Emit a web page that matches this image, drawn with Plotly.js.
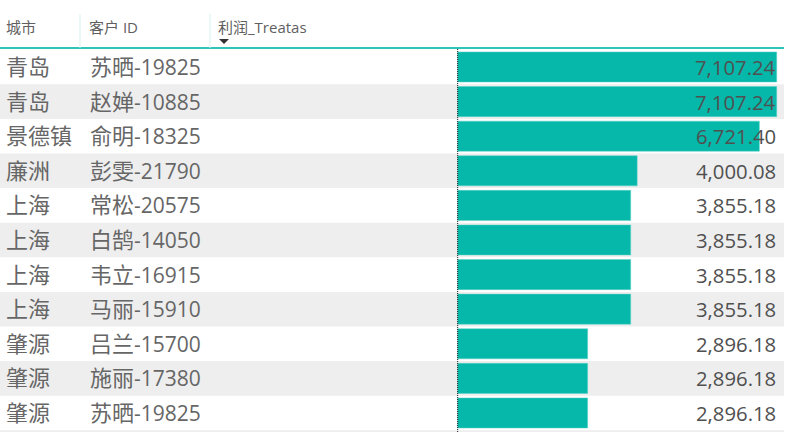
<!DOCTYPE html>
<html><head><meta charset="utf-8">
<script src="https://cdn.plot.ly/plotly-3.0.1.min.js"></script>
<style>html,body{margin:0;padding:0;background:#fff;overflow:hidden}#c{width:807px;height:432px}</style>
</head><body><div id="c"></div>
<script>
const headers = ['城市','客户 ID','利润_Treatas'];
const cities = ['青岛','青岛','景德镇','廉洲','上海','上海','上海','上海','肇源','肇源','肇源'];
const customers = ['苏晒-19825','赵婵-10885','俞明-18325','彭雯-21790','常松-20575','白鹄-14050','韦立-16915','马丽-15910','吕兰-15700','施丽-17380','苏晒-19825'];
const profits = [7107.24,7107.24,6721.40,4000.08,3855.18,3855.18,3855.18,3855.18,2896.18,2896.18,2896.18];

const W = 807, H = 432;
const FONT = '"Open Sans","Noto Sans CJK SC",sans-serif';
const idx = profits.map((_, i) => i);
const fmt = v => v.toLocaleString('en-US',{minimumFractionDigits:2,maximumFractionDigits:2});
// the reference's CJK glyphs are slightly larger than its Latin digits
const mixed = s => s.replace(/-\d+/, m => `<span style="font-size:21px">${m}</span>`);

const shapes = [];
for (let i = 1; i <= profits.length; i += 2) {
  shapes.push({type:'rect',layer:'below',xref:'paper',yref:'y',x0:0,x1:784/W,y0:i-0.5,y1:i+0.5,fillcolor:'#eeeeee',line:{width:0}});
}
shapes.push({type:'line',layer:'above',xref:'x',yref:'paper',x0:0,x1:0,y0:0,y1:1-49/H,line:{color:'#3a3a3a',width:1.2,dash:'1px,1px'}});
shapes.push({type:'line',xref:'paper',yref:'paper',x0:0,x1:784/W,y0:1-48/H,y1:1-48/H,line:{color:'#2ec5b8',width:2}});
[80,210].forEach(px=>shapes.push({type:'line',xref:'paper',yref:'paper',x0:px/W,x1:px/W,y0:1-48/H,y1:1-14/H,line:{color:'#d5f3f0',width:1}}));
shapes.push({type:'path',xref:'paper',yref:'paper',
  path:`M ${219/W} ${1-39/H} L ${229/W} ${1-39/H} L ${224/W} ${1-44/H} Z`,fillcolor:'#333333',line:{width:0}});

const ann = [];
[4,87,216].forEach((px,i)=>ann.push({xref:'paper',yref:'paper',x:px/W,y:1-27/H,xanchor:'left',yanchor:'middle',showarrow:false,
  text:headers[i],font:{family:FONT,size:15,color:'#5f5f5f'}}));
idx.forEach(i=>{
  ann.push({xref:'paper',yref:'y',x:4/W,y:i,yshift:1,xanchor:'left',yanchor:'middle',showarrow:false,text:cities[i],font:{family:FONT,size:22,color:'#666666'}});
  ann.push({xref:'paper',yref:'y',x:88/W,y:i,yshift:1,xanchor:'left',yanchor:'middle',showarrow:false,text:mixed(customers[i]),font:{family:FONT,size:22,color:'#666666'}});
  ann.push({xref:'paper',yref:'y',x:778/W,y:i,xanchor:'right',yanchor:'middle',showarrow:false,text:fmt(profits[i]),font:{family:FONT,size:20.3,color:'#505050'}});
});

Plotly.newPlot('c',[{
  type:'bar',orientation:'h',x:profits,y:idx,width:0.87,
  marker:{color:'#05b8aa',line:{color:'#5fd2c8',width:0.5}},hoverinfo:'skip'
}],{
  width:W,height:H,margin:{l:0,r:0,t:0,b:0},
  paper_bgcolor:'#ffffff',plot_bgcolor:'rgba(0,0,0,0)',showlegend:false,
  xaxis:{visible:false,range:[-10192,7782],fixedrange:true},
  yaxis:{visible:false,range:[10.55,-1.936],fixedrange:true},
  shapes:shapes,annotations:ann
},{displayModeBar:false,staticPlot:true});
</script></body></html>
